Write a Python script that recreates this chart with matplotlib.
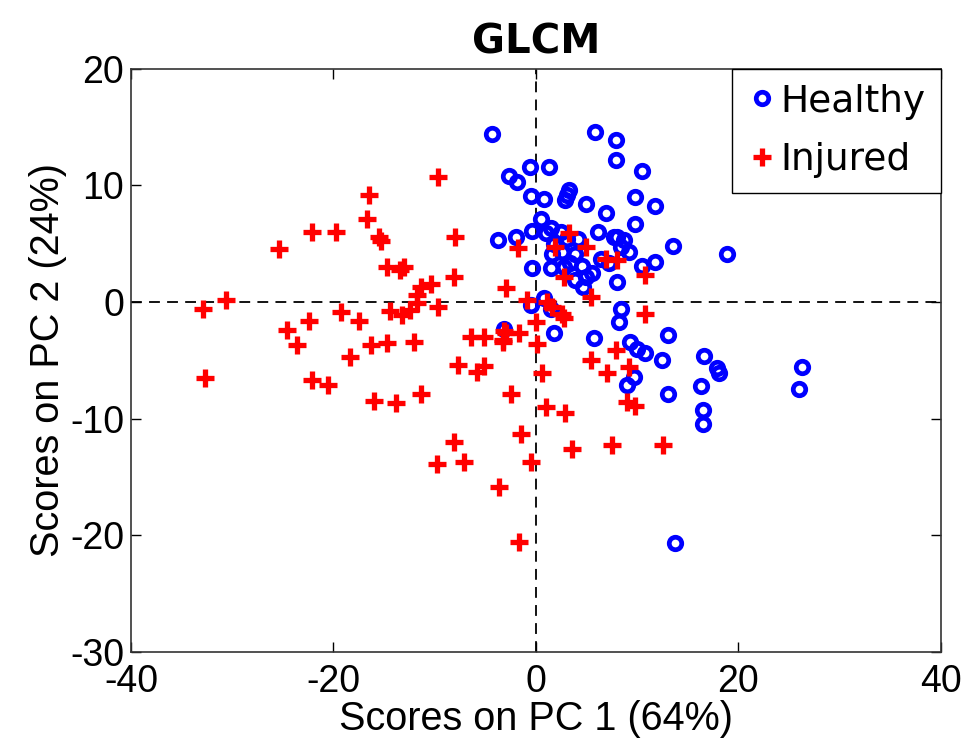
import numpy as np
import matplotlib
matplotlib.use("Agg")
import matplotlib.pyplot as plt

plt.rcParams['axes.unicode_minus'] = False

# PCA scores
healthy_x = [-4.3, 5.8, 7.9, 7.9, 10.5, -0.6, 1.3, -2.7, -1.9, -0.5, 0.8, 3.3, 3.1, 2.9,
             4.9, 9.8, 11.8, 6.9, 9.8, 13.5, 18.9, -3.7, -2.0, -0.4, 0.5, -0.4, 1.5, 8.0,
             6.1, 8.0, 8.7, 9.2, 11.8, 10.5, 1.0, 1.6, 2.6, 3.1, 3.9, 4.6, 4.9, 3.9, 7.7,
             8.4, 6.4, 7.2, 1.8, 2.8, 4.2, 3.4, -0.5, 0.8, 1.5, 8.4, 8.2, 1.8, 5.7, 13.0,
             9.3, 10.0, 10.8, 12.5, 16.6, 17.9, 18.1, 9.7, 9.0, 13.0, 16.3, 16.5, 16.5,
             26.3, 26.0, 13.7, -3.2, 4.7, 5.5, 1.5, 2.5]
healthy_y = [14.4, 14.6, 13.9, 12.2, 11.2, 11.6, 11.6, 10.8, 10.3, 9.1, 8.8, 9.6, 9.2, 8.7,
             8.4, 9.0, 8.2, 7.6, 6.7, 4.8, 4.1, 5.3, 5.6, 6.1, 7.1, 2.9, 2.9, 1.7,
             6.0, 5.6, 5.3, 4.3, 3.4, 3.1, 5.9, 4.1, 4.3, 5.4, 4.1, 3.1, 2.1, 1.9, 5.6,
             4.7, 3.7, 3.3, 5.0, 3.0, 5.4, 3.3, -0.3, 0.3, -0.6, -0.6, -1.7, -2.7, -3.1, -2.8,
             -3.4, -4.0, -4.4, -5.0, -4.6, -5.7, -6.1, -6.4, -7.1, -7.9, -7.2, -9.3, -10.5,
             -5.6, -7.5, -20.7, -2.3, 1.3, 2.5, 6.3, 6.0]

injured_x = [-9.7, -16.5, -16.7, -15.5, -15.3, -22.1, -19.7, -25.4, -8.0, -14.7, -13.4, -13.0,
             -8.1, -11.4, -10.4, -11.7, -3.0, -1.8, -0.9, -30.6, -32.9, -9.7, -24.6, -23.6,
             -22.4, -19.3, -17.5, -18.4, -16.3, -14.7, -14.4, -13.2, -12.4, -11.7, -12.0,
             -7.7, -5.8, -5.1, -6.4, -5.1, -3.3, -3.2, -1.7, 0.0, 0.1, 0.6, 1.0, -2.5,
             -32.7, -22.1, -20.5, -16.0, -13.8, -11.4, -8.1, -9.8, -7.1, -1.5, -0.5, -3.6,
             -1.7, 5.4, 10.8, 2.8, 2.6, 1.6, 1.1, 7.9, 5.4, 9.2, 7.0, 9.0, 9.8, 2.9, 3.6,
             7.5, 12.6, 3.3, 1.9, 4.9, 6.9, 8.0, 2.8, 10.8, -3.0, -3.3]
injured_y = [10.7, 9.2, 7.1, 5.6, 5.2, 6.0, 6.0, 4.5, 5.6, 3.0, 2.7, 3.0,
             2.1, 1.3, 1.5, 0.6, 1.2, 4.6, 0.2, 0.2, -0.6, -0.4, -2.4, -3.7,
             -1.6, -0.9, -1.6, -4.7, -3.7, -3.5, -0.8, -1.1, -0.7, -0.1, -3.4,
             -5.4, -6.0, -5.5, -3.0, -3.0, -3.3, -2.5, -2.7, -1.7, -3.6, -6.1, -9.0, -7.9,
             -6.5, -6.7, -7.1, -8.5, -8.7, -7.9, -12.0, -13.9, -13.7, -11.3, -13.7, -15.9,
             -20.6, 0.4, -1.0, -1.4, -1.0, -0.4, 0.0, -4.1, -5.0, -5.6, -6.1, -8.6, -8.9, -9.5, -12.6,
             -12.3, -12.3, 5.9, 4.7, 4.7, 3.7, 3.6, 2.1, 2.3, -2.7, -3.4]

fig = plt.figure(figsize=(9.63, 7.45), dpi=100)
ax = fig.add_axes([0.136, 0.125, 0.841, 0.783])

# dashed zero lines
ax.axvline(0, color='black', linestyle=(0, (6, 4)), linewidth=1.3, zorder=1)
ax.axhline(0, color='black', linestyle=(0, (6, 4)), linewidth=1.3, zorder=1)

ax.plot(healthy_x, healthy_y, 'o', mfc='none', mec='#0000ff', ms=9, mew=3.4,
        linestyle='none', label='Healthy', zorder=2)
ax.plot(injured_x, injured_y, '+', color='#ff0000', ms=12.5, mew=3.8,
        linestyle='none', label='Injured', zorder=3)

ax.set_xlim(-40, 40)
ax.set_ylim(-30, 20)
ax.set_xticks([-40, -20, 0, 20, 40])
ax.set_yticks([-30, -20, -10, 0, 10, 20])

for lab in ax.get_xticklabels() + ax.get_yticklabels():
    lab.set_fontfamily('Liberation Sans')
    lab.set_fontsize(27)
ax.tick_params(direction='in', length=7, width=1, top=True, right=True)
ax.tick_params(axis='x', pad=9)
ax.tick_params(axis='y', pad=5)

ax.set_xlabel('Scores on PC 1 (64%)', fontfamily='Liberation Sans', fontsize=28.5, labelpad=0)
ax.set_ylabel('Scores on PC 2 (24%)', fontfamily='Liberation Sans', fontsize=28.5, labelpad=2)
ax.set_title('GLCM', fontfamily='DejaVu Sans', fontweight='bold', fontsize=29, pad=11)

for sp in ax.spines.values():
    sp.set_linewidth(1.2)
    sp.set_color('#333333')

leg = ax.legend(loc='upper right', fancybox=False, framealpha=1, edgecolor='black',
                prop={'family': 'DejaVu Sans', 'size': 27}, handletextpad=0.1,
                handlelength=0.8, borderaxespad=0.0, borderpad=0.4, labelspacing=0.6)
leg.get_frame().set_linewidth(1.0)

fig.savefig('out.png', dpi=100, facecolor='white')
